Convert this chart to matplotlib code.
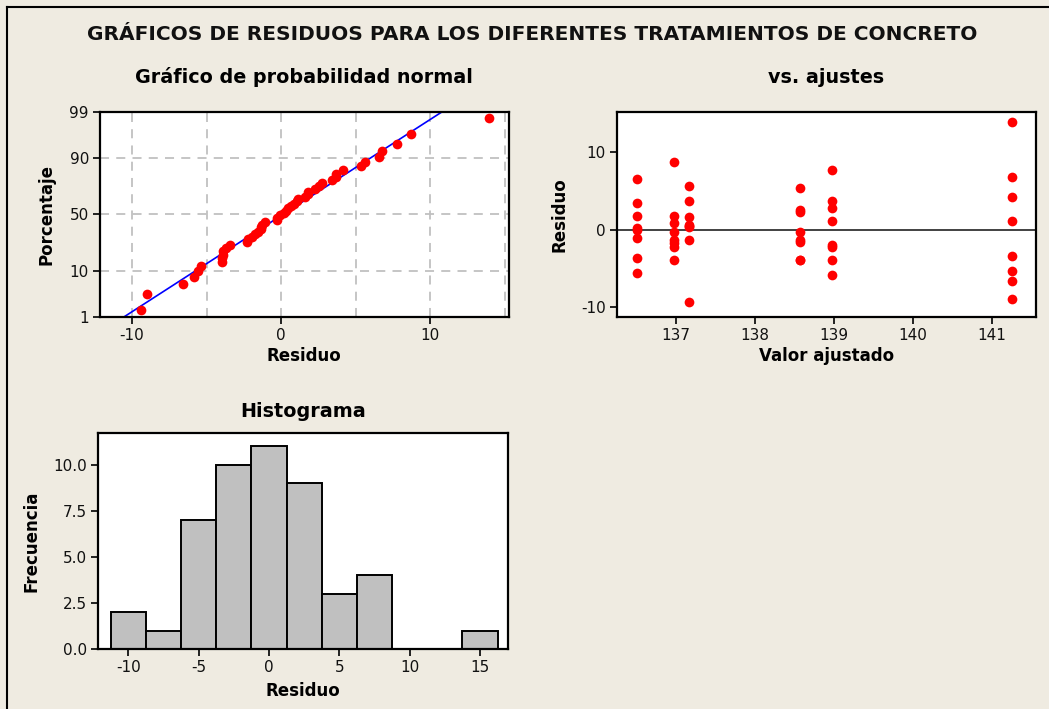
import numpy as np
import matplotlib
matplotlib.use("Agg")
import matplotlib.pyplot as plt
from matplotlib.lines import Line2D
from statistics import NormalDist

# ---- data ----
fitted_levels = [136.51, 136.97, 137.16, 138.57, 138.97, 141.25]
res_g1 = [6.56, 3.45, 1.81, 0.18, -0.04, -1.07, -3.66, -5.60]
res_g2 = [8.72, 1.81, 0.87, -0.30, -1.33, -1.76, -2.19, -3.92]
res_g3 = [5.65, 3.71, 1.60, 0.65, 0.45, 0.30, -1.29, -9.39]
res_g4 = [5.37, 2.53, 2.27, -0.27, -1.35, -1.57, -3.93, -3.96]
res_g5 = [7.76, 3.72, 2.76, 1.12, -1.98, -2.28, -3.92, -5.86]
res_g6 = [13.97, 6.77, 4.18, 1.08, -3.45, -5.34, -6.59, -8.97]
groups = [res_g1, res_g2, res_g3, res_g4, res_g5, res_g6]

prob_ticks = [1, 10, 50, 90, 99]
hist_bin_edges = np.arange(-11.25, 16.26, 2.5)

main_title = "GRÁFICOS DE RESIDUOS PARA LOS DIFERENTES TRATAMIENTOS DE CONCRETO"

# ---- style ----
BG = "#EFEBE1"
RED = "#FF0000"
plt.rcParams["font.family"] = ["DejaVu Sans"]
plt.rcParams["axes.unicode_minus"] = False
plt.rcParams["axes.linewidth"] = 1.6
plt.rcParams["xtick.major.width"] = 1.3
plt.rcParams["ytick.major.width"] = 1.3
plt.rcParams["xtick.major.size"] = 5
plt.rcParams["ytick.major.size"] = 5
plt.rcParams["xtick.labelsize"] = 11
plt.rcParams["ytick.labelsize"] = 11
plt.rcParams["xtick.color"] = "#111111"
plt.rcParams["ytick.color"] = "#111111"

W, H = 1049, 709
fig = plt.figure(figsize=(W / 100, H / 100), dpi=100, facecolor=BG)

def fr(l, t, r, b):
    return [l / W, 1 - b / H, (r - l) / W, (b - t) / H]

# figure frame (left and top)
fig.add_artist(Line2D([7 / W, 7 / W], [0, 1 - 7 / H], color="black", lw=1.5))
fig.add_artist(Line2D([7 / W, 1], [1 - 7 / H, 1 - 7 / H], color="black", lw=1.5))

fig.text(532 / W, 1 - 35 / H, main_title, ha="center", va="center",
         fontsize=14.5, fontweight="bold", color="#111111")

all_res = np.concatenate([np.array(g, float) for g in groups])
n = len(all_res)
nd = NormalDist()

# ---- normal probability plot ----
ax1 = fig.add_axes(fr(100, 111.7, 508.7, 316.7))

def fwd(p):
    p = np.asarray(p, dtype=float)
    out = np.empty_like(p)
    o = out.ravel()
    for i, v in enumerate(p.ravel()):
        v = min(max(v / 100.0, 1e-9), 1 - 1e-9)
        o[i] = nd.inv_cdf(v)
    return out

def inv(z):
    z = np.asarray(z, dtype=float)
    out = np.empty_like(z)
    o = out.ravel()
    for i, v in enumerate(z.ravel()):
        o[i] = nd.cdf(v) * 100.0
    return out

ax1.set_yscale("function", functions=(fwd, inv))
sorted_res = np.sort(all_res)
ranks = np.arange(1, n + 1)
pct = (ranks - 0.3) / (n + 0.4) * 100
mu, sd = all_res.mean(), all_res.std(ddof=1)
line_p = np.linspace(0.2, 99.8, 200)
line_x = mu + sd * np.array([nd.inv_cdf(p / 100) for p in line_p])
for gx in [-10, -5, 0, 5, 10, 15]:
    ax1.axvline(gx, color="#C0C0C0", lw=1.3, ls=(0, (5, 4)), zorder=0)
for gy in [10, 50, 90]:
    ax1.axhline(gy, color="#C0C0C0", lw=1.3, ls=(0, (5, 4)), zorder=0)
ax1.plot(line_x, line_p, color="#0000FF", lw=1.2, zorder=2)
ax1.plot(sorted_res, pct, "o", color=RED, ms=7, mec="none", zorder=3)
ax1.set_xlim(-12.15, 15.28)
ax1.set_ylim(1, 99)
ax1.set_yticks(prob_ticks)
ax1.set_yticklabels([str(t) for t in prob_ticks])
ax1.yaxis.set_minor_locator(matplotlib.ticker.NullLocator())
ax1.set_xticks([-10, 0, 10])
ax1.set_title("Gráfico de probabilidad normal", fontsize=13.8, fontweight="bold", pad=21)
ax1.set_xlabel("Residuo", fontsize=12, fontweight="bold", labelpad=3)
ax1.set_ylabel("Porcentaje", fontsize=12, fontweight="bold")
ax1.yaxis.set_label_coords(-0.108, 0.5)

# ---- versus fits ----
ax2 = fig.add_axes(fr(616.7, 112.3, 1035.7, 316.7))
ax2.axhline(0, color="#333333", lw=1.3, zorder=1)
for fv, g in zip(fitted_levels, groups):
    ax2.plot([fv] * len(g), g, "o", color=RED, ms=7, mec="none", zorder=3)
ax2.set_xlim(136.25, 141.55)
ax2.set_ylim(-11.25, 15.19)
ax2.set_xticks([137, 138, 139, 140, 141])
ax2.set_yticks([-10, 0, 10])
ax2.set_title("vs. ajustes", fontsize=13.8, fontweight="bold", pad=21)
ax2.set_xlabel("Valor ajustado", fontsize=12, fontweight="bold", labelpad=3)
ax2.set_ylabel("Residuo", fontsize=12, fontweight="bold")
ax2.yaxis.set_label_coords(-0.116, 0.5)

# ---- histogram ----
ax3 = fig.add_axes(fr(98.3, 432.7, 508, 649))
ax3.hist(all_res, bins=hist_bin_edges, color="#C0C0C0", edgecolor="black", linewidth=1.4)
ax3.set_xlim(-12.13, 16.99)
ax3.set_ylim(0, 11.74)
ax3.set_xticks([-10, -5, 0, 5, 10, 15])
ax3.set_yticks([0, 2.5, 5, 7.5, 10])
ax3.set_yticklabels(["0.0", "2.5", "5.0", "7.5", "10.0"])
ax3.set_title("Histograma", fontsize=13.8, fontweight="bold", pad=11)
ax3.set_xlabel("Residuo", fontsize=12, fontweight="bold", labelpad=5)
ax3.set_ylabel("Frecuencia", fontsize=12, fontweight="bold")
ax3.yaxis.set_label_coords(-0.140, 0.5)

for ax in (ax1, ax2, ax3):
    ax.set_facecolor("white")
    ax.tick_params(direction="out", pad=3)

fig.savefig("out.png", dpi=100, facecolor=BG)
